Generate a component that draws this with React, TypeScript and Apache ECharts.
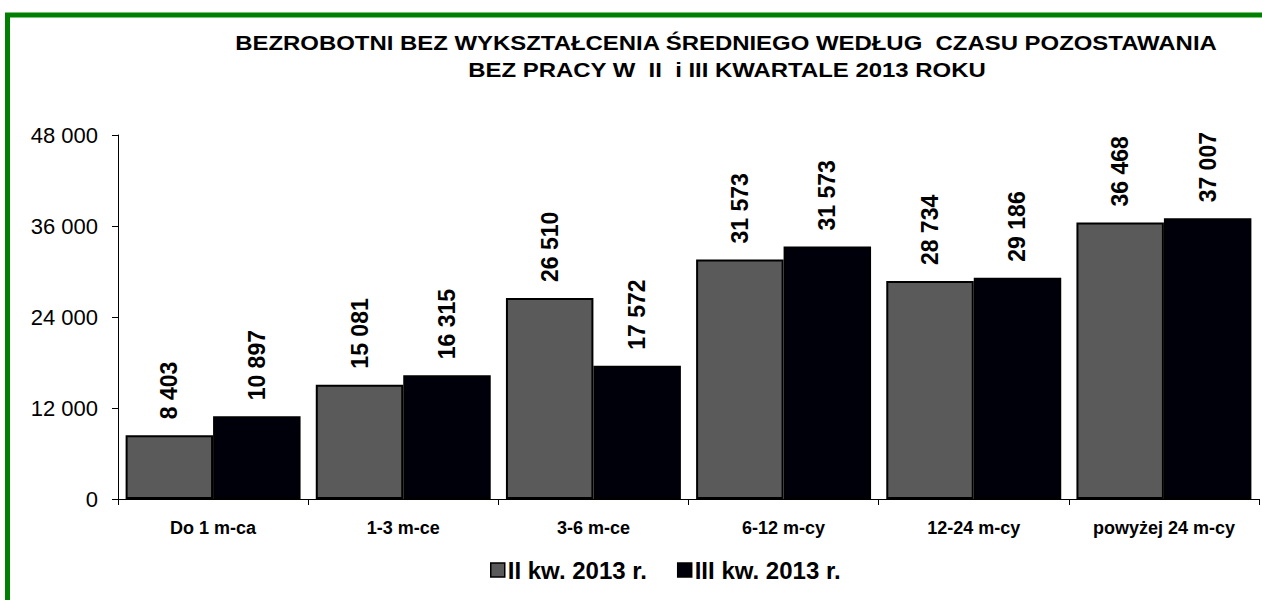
import React, { useEffect, useRef } from "react";
import * as echarts from "echarts";

const categories = ["Do 1 m-ca", "1-3 m-ce", "3-6 m-ce", "6-12 m-cy", "12-24 m-cy", "powyżej 24 m-cy"];
const seriesNames = ["II kw. 2013 r.", "III kw. 2013 r."];
const q2Values = [8403, 15081, 26510, 31573, 28734, 36468];
const q3Values = [10897, 16315, 17572, 33300, 29186, 37007];
const q2Labels = ["8 403", "15 081", "26 510", "31 573", "28 734", "36 468"];
const q3Labels = ["10 897", "16 315", "17 572", "31 573", "29 186", "37 007"];
const titleLines = [
  "BEZROBOTNI BEZ WYKSZTAŁCENIA ŚREDNIEGO WEDŁUG  CZASU POZOSTAWANIA",
  "BEZ PRACY W  II  i III KWARTALE 2013 ROKU",
];
const yMax = 48000;
const yStep = 12000;

const FONT = "'Liberation Sans', Arial, sans-serif";

const fmt = (v: number) => String(v).replace(/\B(?=(\d{3})+(?!\d))/g, " ");

export default function App() {
  const ref = useRef<HTMLDivElement>(null);
  useEffect(() => {
    if (!ref.current) return;
    const chart = echarts.init(ref.current, undefined, { renderer: "svg" });
    const labelCfg = (labels: string[]) => ({
      show: true,
      position: "top",
      rotate: 90,
      align: "left",
      verticalAlign: "middle",
      distance: 16,
      fontFamily: FONT,
      fontWeight: "bold",
      fontSize: 23,
      color: "#000",
      formatter: (p: any) => labels[p.dataIndex],
    });
    chart.setOption({
      animation: false,
      backgroundColor: "#ffffff",
      textStyle: { fontFamily: FONT },
      graphic: [
        {
          type: "rect",
          silent: true,
          shape: { x: 7.5, y: 15, width: 1400, height: 800 },
          style: { fill: "none", stroke: "#008000", lineWidth: 5 },
        },
        {
          type: "text",
          x: 726,
          y: 43,
          scaleX: 1.14,
          style: {
            text: titleLines[0],
            font: `bold 21px ${FONT}`,
            fill: "#000",
            align: "center",
            verticalAlign: "middle",
          },
        },
        {
          type: "text",
          x: 727,
          y: 70,
          scaleX: 1.14,
          style: {
            text: titleLines[1],
            font: `bold 21px ${FONT}`,
            fill: "#000",
            align: "center",
            verticalAlign: "middle",
          },
        },
      ],
      legend: {
        data: seriesNames,
        left: 485,
        top: 553,
        itemWidth: 14,
        itemHeight: 14,
        itemGap: 30,
        icon: "rect",
        itemStyle: { borderColor: "#000", borderWidth: 1.5 },
        textStyle: {
          fontFamily: FONT,
          fontWeight: "bold",
          fontSize: 24,
          color: "#000",
          padding: [0, 0, 0, -2],
        },
      },
      grid: { left: 118, right: 3, top: 135, bottom: 101, containLabel: false },
      xAxis: {
        type: "category",
        data: categories,
        axisLine: { lineStyle: { color: "#000", width: 1 } },
        axisTick: { show: true, length: 6, lineStyle: { color: "#000" } },
        axisLabel: {
          margin: 20,
          fontFamily: FONT,
          fontWeight: "bold",
          fontSize: 18,
          color: "#000",
        },
      },
      yAxis: {
        type: "value",
        min: 0,
        max: yMax,
        interval: yStep,
        axisLine: { show: true, lineStyle: { color: "#000", width: 1 } },
        axisTick: { show: true, length: 6, lineStyle: { color: "#000" } },
        splitLine: { show: false },
        axisLabel: {
          margin: 20,
          fontFamily: FONT,
          fontSize: 22,
          color: "#000",
          formatter: (v: number) => fmt(v),
        },
      },
      series: [
        {
          name: seriesNames[0],
          type: "bar",
          data: q2Values,
          barGap: "0%",
          barCategoryGap: "8%",
          itemStyle: { color: "#5a5a5a", borderColor: "#000", borderWidth: 2 },
          label: labelCfg(q2Labels),
        },
        {
          name: seriesNames[1],
          type: "bar",
          data: q3Values,
          barGap: "0%",
          barCategoryGap: "8%",
          itemStyle: { color: "#00000a", borderColor: "#000", borderWidth: 2 },
          label: labelCfg(q3Labels),
        },
      ],
    });
    return () => chart.dispose();
  }, []);
  return (
    <div
      ref={ref}
      style={{ position: "absolute", left: 0, top: 0, width: 1262, height: 600 }}
    />
  );
}
